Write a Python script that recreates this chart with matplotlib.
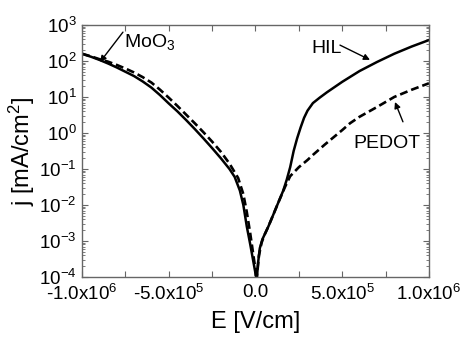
import numpy as np
import matplotlib.pyplot as plt
from matplotlib.ticker import LogLocator, NullFormatter

plt.rcParams['font.family'] = ['Liberation Sans', 'DejaVu Sans']
plt.rcParams['mathtext.fontset'] = 'custom'
plt.rcParams['mathtext.rm'] = 'Liberation Sans'
plt.rcParams['mathtext.it'] = 'Liberation Sans:italic'
plt.rcParams['mathtext.bf'] = 'Liberation Sans:bold'

# HIL (solid): field in units of 1e6 V/cm, log10 of current density
hil_e = [-1.0, -0.95, -0.9, -0.85, -0.8, -0.75, -0.7, -0.65, -0.6, -0.55, -0.5,
         -0.45, -0.4, -0.35, -0.3, -0.25, -0.2, -0.15, -0.12, -0.09, -0.07,
         -0.05, -0.03, -0.015, 0.0, 0.007,
         0.015, 0.025, 0.04, 0.074, 0.1, 0.13, 0.16, 0.18, 0.2, 0.22, 0.24,
         0.26, 0.28, 0.3, 0.331, 0.37, 0.412, 0.5, 0.6, 0.7, 0.8, 0.9, 1.0]
hil_log = [2.2, 2.12, 2.03, 1.93, 1.82, 1.7, 1.58, 1.43, 1.26, 1.05, 0.82,
           0.6, 0.36, 0.11, -0.15, -0.42, -0.7, -1.0, -1.22, -1.6, -2.0,
           -2.6, -3.1, -3.5, -3.9, -4.1,
           -3.6, -3.2, -2.95, -2.6, -2.3, -1.95, -1.6, -1.3, -0.95, -0.5, -0.15,
           0.15, 0.42, 0.62, 0.83, 0.98, 1.13, 1.42, 1.72, 1.97, 2.2, 2.4, 2.58]

# PEDOT (dashed)
pedot_e = [-1.0, -0.95, -0.9, -0.85, -0.8, -0.75, -0.7, -0.65, -0.6, -0.55, -0.5,
           -0.45, -0.4, -0.35, -0.3, -0.25, -0.2, -0.15, -0.1, -0.07, -0.05,
           -0.03, -0.015, 0.0, 0.005,
           0.012, 0.02, 0.035, 0.05, 0.074, 0.1, 0.13, 0.17, 0.2, 0.25, 0.3,
           0.331, 0.4, 0.45, 0.5, 0.545, 0.6, 0.7, 0.8, 0.9, 1.0]
pedot_log = [2.2, 2.13, 2.05, 1.98, 1.89, 1.79, 1.68, 1.55, 1.4, 1.2, 0.98,
             0.75, 0.51, 0.27, 0.02, -0.24, -0.52, -0.85, -1.25, -1.7, -2.2,
             -2.8, -3.3, -3.8, -4.1,
             -3.8, -3.4, -3.05, -2.85, -2.6, -2.3, -1.95, -1.5, -1.2, -0.95, -0.75,
             -0.61, -0.32, -0.12, 0.08, 0.27, 0.45, 0.72, 1.0, 1.2, 1.38]

xtick_vals = [-1e6, -7.5e5, -5e5, -2.5e5, 0, 2.5e5, 5e5, 7.5e5, 1e6]
xtick_labels = [r'-1.0x10$^{6}$', '', r'-5.0x10$^{5}$', '', '0.0', '',
                r'5.0x10$^{5}$', '', r'1.0x10$^{6}$']

fig = plt.figure(figsize=(4.62, 3.37), dpi=100)
ax = fig.add_axes([0.1775, 0.178, 0.751, 0.748])

ax.semilogy(np.array(hil_e) * 1e6, 10 ** np.array(hil_log), color='k', lw=1.8)
ax.semilogy(np.array(pedot_e) * 1e6, 10 ** np.array(pedot_log), color='k', lw=1.9,
            dashes=(3.0, 1.5))

ax.set_xlim(-1e6, 1e6)
ax.set_ylim(1e-4, 1e3)
ax.set_xticks(xtick_vals, xtick_labels)
ax.yaxis.set_major_locator(LogLocator(base=10, numticks=10))
ax.yaxis.set_minor_locator(LogLocator(base=10, subs=np.arange(2, 10), numticks=100))
ax.yaxis.set_minor_formatter(NullFormatter())

ax.tick_params(which='both', direction='in', top=True, right=True,
               color='#666666', labelsize=13.5, pad=4)
ax.tick_params(axis='x', pad=5)
ax.tick_params(which='major', length=4.5, width=0.8)
ax.tick_params(which='minor', length=2.5, width=0.6)
for s in ax.spines.values():
    s.set_color('#666666')
    s.set_linewidth(1.0)

ax.set_xlabel('E [V/cm]', fontsize=17, labelpad=5)
ax.set_ylabel(r'j [mA/cm$^{2}$]', fontsize=17, labelpad=1)

arrow = dict(arrowstyle='-|>', color='k', lw=1.0, mutation_scale=9, shrinkA=0, shrinkB=0)
ax.text(-0.758e6, 10 ** 2.39, r'MoO$_3$', fontsize=14, ha='left', va='baseline')
ax.annotate('', xy=(-0.896e6, 10 ** 1.97), xytext=(-0.764e6, 10 ** 2.8), arrowprops=arrow)
ax.text(0.499e6, 10 ** 2.22, 'HIL', fontsize=14, ha='right', va='baseline')
ax.annotate('', xy=(0.66e6, 10 ** 2.03), xytext=(0.487e6, 10 ** 2.44), arrowprops=arrow)
ax.text(0.562e6, 10 ** -0.42, 'PEDOT', fontsize=14, ha='left', va='baseline')
ax.annotate('', xy=(0.804e6, 10 ** 0.86), xytext=(0.85e6, 10 ** 0.31), arrowprops=arrow)

fig.savefig('out.png', dpi=100)
